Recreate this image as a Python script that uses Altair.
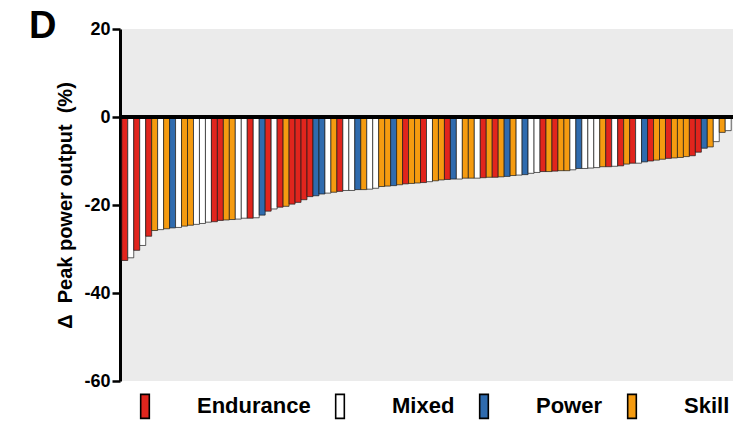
import altair as alt
import pandas as pd

# category code of each bar (left to right)
codes = list("EMEMESMSPMSSMMMEESSMMEMPEMESEEEEPPMSEMMPSMMSSPSESSEMSSEPMSSMESESPSMPMMESESSMPMMMSEMESEMPESSESSSEEPSMSM")
names = {"E": "Endurance", "M": "Mixed", "P": "Power", "S": "Skill"}

values = [
    -32.6, -32.0, -30.3, -29.2, -27.1, -25.8, -25.6, -25.4, -25.2, -25.1,
    -24.8, -24.6, -24.4, -24.2, -23.9, -23.8, -23.5, -23.4, -23.3, -23.2,
    -23.0, -23.0, -22.9, -22.3, -21.4, -20.9, -20.5, -20.3, -19.8, -19.4,
    -18.8, -18.1, -17.9, -17.5, -17.3, -17.1, -16.9, -16.7, -16.7, -16.5,
    -16.5, -16.4, -16.2, -15.8, -15.7, -15.6, -15.4, -15.2, -15.1, -15.0,
    -14.9, -14.7, -14.5, -14.3, -14.2, -14.1, -14.1, -13.9, -13.9, -13.9,
    -13.8, -13.7, -13.7, -13.6, -13.5, -13.3, -13.2, -13.1, -12.8, -12.6,
    -12.4, -12.4, -12.3, -12.2, -12.2, -12.0, -11.7, -11.7, -11.6, -11.5,
    -11.3, -11.3, -11.2, -11.1, -10.7, -10.5, -10.5, -10.2, -10.0, -9.8,
    -9.6, -9.4, -9.3, -9.2, -9.0, -8.8, -8.0, -7.1, -6.8, -5.6,
    -3.5, -3.1,
]

legend_names = ["Endurance", "Mixed", "Power", "Skill"]
legend_colors = ["#e1251d", "#ffffff", "#2f6bae", "#f59b10"]
y_ticks = [-60, -40, -20, 0, 20]

df = pd.DataFrame({
    "idx": list(range(1, len(values) + 1)),
    "value": values,
    "group": [names[c] for c in codes],
})

FONT = "Liberation Sans"

bars = alt.Chart(df).mark_bar(stroke="#1a1a1a", strokeWidth=0.7, opacity=1).encode(
    x=alt.X("idx:O", axis=None, sort=None,
            scale=alt.Scale(paddingInner=0, paddingOuter=0.3)),
    y=alt.Y("value:Q",
            scale=alt.Scale(domain=[-60, 20], nice=False, zero=False),
            axis=alt.Axis(values=y_ticks, title="Δ\u00a0\u00a0Peak power output\u00a0\u00a0(%)",
                          labelExpr="toString(datum.value)",
                          grid=False, domainColor="black", domainWidth=3,
                          tickColor="black", tickWidth=2.5, tickSize=8,
                          labelFont=FONT, labelFontSize=18, labelFontWeight="bold",
                          labelColor="black", labelPadding=2,
                          titleFont=FONT, titleFontSize=20, titleFontWeight="bold",
                          titleColor="black", titlePadding=8)),
    color=alt.Color("group:N",
                    scale=alt.Scale(domain=legend_names, range=legend_colors),
                    legend=alt.Legend(title=None, orient="none", direction="horizontal",
                                      legendX=12, legendY=364,
                                      symbolType="M-0.36,-1L0.36,-1L0.36,1L-0.36,1Z",
                                      symbolSize=576, symbolStrokeColor="black",
                                      symbolStrokeWidth=1.6, symbolOpacity=1,
                                      labelFont=FONT, labelFontSize=22,
                                      labelFontWeight="bold", labelColor="black",
                                      labelOffset=39, columnPadding=16, padding=0)),
)

zero = alt.Chart(df).mark_rule(color="black", strokeWidth=3).encode(y=alt.datum(0))

chart = alt.layer(bars, zero).properties(
    width=613, height=352,
    autosize=alt.AutoSizeParams(type="none"),
    padding={"left": 120, "top": 29, "right": 0, "bottom": 41},
    title=alt.TitleParams("D", anchor="start", frame="group", fontSize=38,
                          fontWeight="bold", font=FONT, color="black",
                          baseline="alphabetic", offset=0, dx=-91, dy=56),
).configure(background="white").configure_view(fill="#ebebeb", stroke=None)

chart.save("out.html", embed_options={"renderer": "svg", "actions": False})
